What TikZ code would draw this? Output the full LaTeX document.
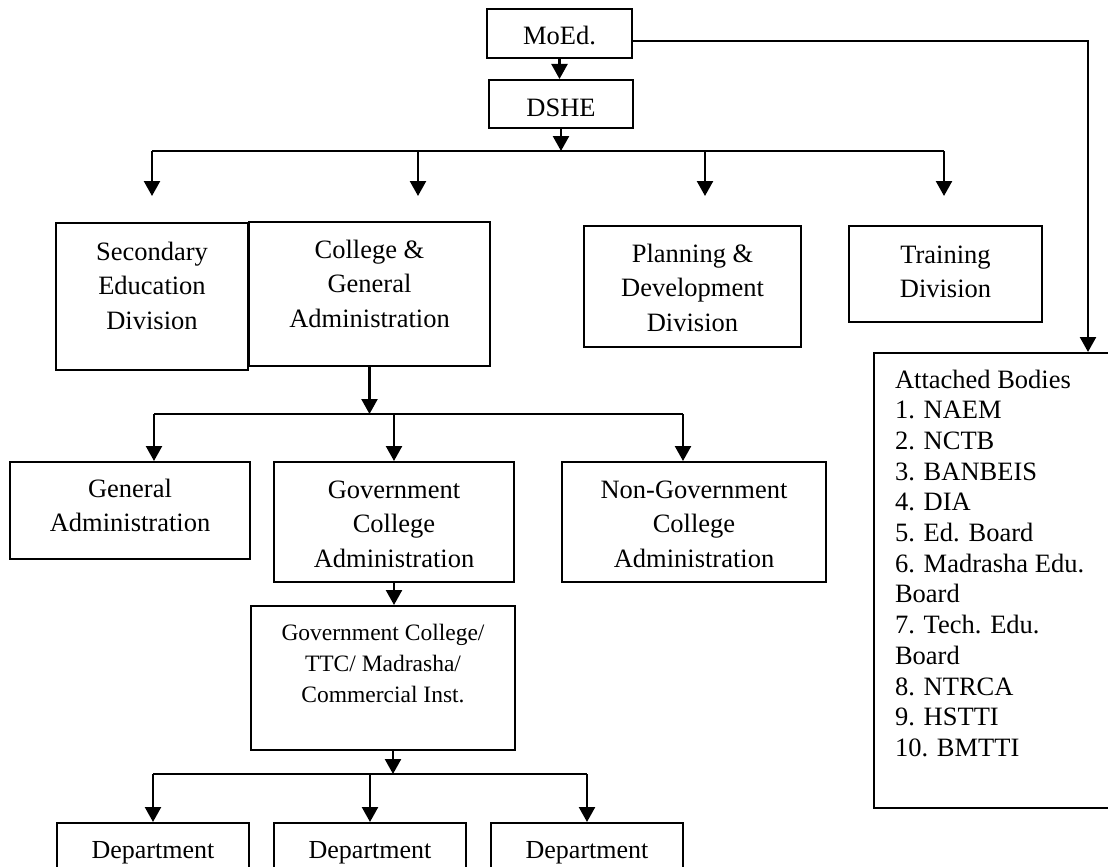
\documentclass[tikz,border=0pt]{standalone}
\usepackage{fontspec}
\setmainfont{Liberation Serif}
\usetikzlibrary{arrows.meta,positioning}

\newcommand{\bigtext}{\fontsize{26.5pt}{34.5pt}\selectfont}
\newcommand{\smalltext}{\fontsize{23.5pt}{31pt}\selectfont}
\newcommand{\listtext}{\fontsize{26.5pt}{30.7pt}\selectfont}

\begin{document}
\begin{tikzpicture}
    [
        x=1pt, y=-1pt,
        box/.style = {draw, shape=rectangle, line width=2pt, inner sep=0pt, align=flush center, font=\bigtext},
        depbox/.style = {box, font=\fontsize{26pt}{31pt}\selectfont, text width=192pt, minimum height=62pt, anchor=north, text height=8pt, text depth=0pt},
        flow/.style = {line width=2.4pt, -{Triangle[length=15pt,width=16pt]}},
        bus/.style = {line width=2.4pt},
    ]
    \useasboundingbox (0,0) rectangle (1108,867);
    \clip (0,0) rectangle (1108,867);

    \node[box, minimum width=145pt, minimum height=49pt, text height=23pt, text depth=0pt] (moed) at (559.5,33.5) {MoEd.};
    \node[box, minimum width=144pt, minimum height=48pt, text height=24pt, text depth=0pt] (dshe) at (561,104) {DSHE};

    \node[box, text width=192pt, minimum height=147pt, text height=0pt, text depth=73pt] (sec) at (152,296.5) {Secondary\\Education\\Division};
    \node[box, text width=241pt, minimum height=144pt, text height=0pt, text depth=72pt] (coll) at (369.5,294) {College \&\\General\\Administration};
    \node[box, text width=217pt, minimum height=121pt, text height=0pt, text depth=49pt] (plan) at (692.5,286.5) {Planning \&\\Development\\Division};
    \node[box, text width=193pt, minimum height=96pt, text height=0pt, text depth=22pt] (train) at (945.5,274) {Training\\Division};

    \node[box, font=\listtext, align=flush left, inner xsep=21pt, text width=204pt, minimum height=455pt, text height=0pt, text depth=385pt] (att) at (997,580.5)
        {Attached Bodies\\1. NAEM\\2. NCTB\\3. BANBEIS\\4. DIA\\5. Ed. Board\\6. Madrasha Edu.\\Board\\7. Tech. Edu.\\Board\\8. NTRCA\\9. HSTTI\\10. BMTTI};

    \node[box, text width=240pt, minimum height=97pt, text height=0pt, text depth=27pt] (gadm) at (130,510.5) {General\\Administration};
    \node[box, text width=240pt, minimum height=120pt, text height=0pt, text depth=48pt] (gca) at (394,522) {Government\\College\\Administration};
    \node[box, text width=264pt, minimum height=120pt, text height=0pt, text depth=48pt] (ngca) at (694,522) {Non-Government\\College\\Administration};
    \node[box, font=\smalltext, text width=264pt, minimum height=144pt, text height=0pt, text depth=76pt] (inst) at (383,678) {Government College/\\TTC/ Madrasha/\\Commercial Inst.};

    \node[depbox] (dep1) at (153,822) {Department};
    \node[depbox] (dep2) at (370,822) {Department};
    \node[depbox] (dep3) at (587,822) {Department};

    % MoEd -> DSHE -> divisions
    \coordinate (top) at (561,151);
    \coordinate (b1) at (152,151);
    \coordinate (b2) at (418,151);
    \coordinate (b3) at (705,151);
    \coordinate (b4) at (944,151);
    \draw[flow] (moed.south) -- (moed.south |- dshe.north);
    \draw[flow] (dshe.south) -- (top);
    \draw[bus] (b1) -- (b4);
    \draw[flow, shorten >=26pt] (b1) -- (b1 |- sec.north);
    \draw[flow, shorten >=25pt] (b2) -- (b2 |- coll.north);
    \draw[flow, shorten >=29pt] (b3) -- (b3 |- plan.north);
    \draw[flow, shorten >=29pt] (b4) -- (b4 |- train.north);

    % MoEd -> attached bodies
    \coordinate (corner) at (1088,41);
    \draw[flow] (moed.east |- corner) -- (corner) -- (corner |- att.north);

    % college administration
    \coordinate (mid) at (370,414);
    \coordinate (c1) at (154,414);
    \coordinate (c3) at (683,414);
    \draw[flow] (coll.south) -- (coll.south |- mid);
    \draw[bus] (c1) -- (c3);
    \draw[flow] (c1) -- (c1 |- gadm.north);
    \draw[flow] (gca.north |- mid) -- (gca.north);
    \draw[flow] (c3) -- (c3 |- ngca.north);
    \draw[flow] (gca.south) -- (gca.south |- inst.north);

    % departments
    \coordinate (low) at (393,774);
    \draw[flow] (low |- inst.south) -- (low);
    \draw[bus] (dep1.north |- low) -- (dep3.north |- low);
    \draw[flow] (dep1.north |- low) -- (dep1.north);
    \draw[flow] (dep2.north |- low) -- (dep2.north);
    \draw[flow] (dep3.north |- low) -- (dep3.north);
\end{tikzpicture}
\end{document}
